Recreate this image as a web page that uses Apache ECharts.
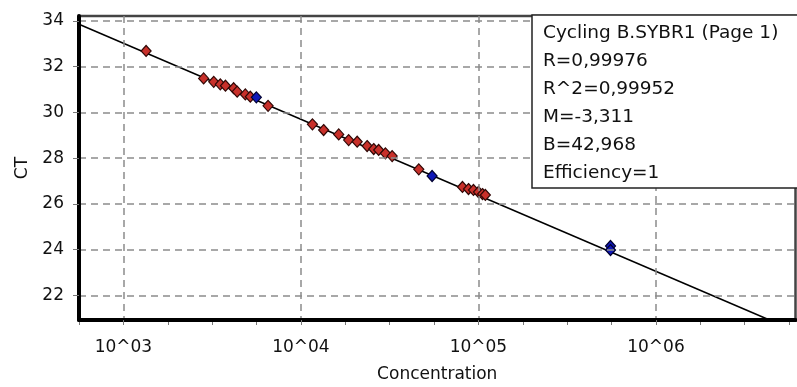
<!DOCTYPE html>
<html>
<head>
<meta charset="utf-8">
<script src="https://cdn.jsdelivr.net/npm/echarts@6/dist/echarts.min.js"></script>
<style>
  html, body { margin: 0; padding: 0; background: #fff; }
  #chart { width: 797px; height: 387px; }
</style>
</head>
<body>
<div id="chart"></div>
<script>
// standard curve, x = log10(concentration)
const redLogConc = [3.128, 3.452, 3.509, 3.546, 3.575, 3.621, 3.641, 3.687, 3.715, 3.815,
  4.065, 4.128, 4.213, 4.269, 4.317, 4.373, 4.410, 4.438, 4.476, 4.514,
  4.664, 4.910, 4.944, 4.972, 5.000, 5.023, 5.039];
const redCt = [32.69, 31.49, 31.34, 31.23, 31.17, 31.06, 30.91, 30.79, 30.69, 30.29,
  29.48, 29.23, 29.04, 28.79, 28.72, 28.53, 28.40, 28.36, 28.21, 28.09,
  27.51, 26.74, 26.65, 26.61, 26.52, 26.43, 26.39];
const blueLogConc = [3.749, 4.739, 5.744, 5.744];
const blueCt = [30.66, 27.22, 24.16, 23.98];

// regression line ends
const fitLogConc = [2.75, 6.63];
const fitCt = [33.86, 20.95];

const xTicks = [3, 4, 5, 6];
const xMinorTicks = [2.75, 3, 3.25, 3.5, 3.75, 4, 4.25, 4.5, 4.75, 5, 5.25, 5.5, 5.75, 6, 6.25, 6.5, 6.75];
const yTicks = [22, 24, 26, 28, 30, 32, 34];
const yMinorTicks = [21, 21.5, 22, 22.5, 23, 23.5, 24, 24.5, 25, 25.5, 26, 26.5, 27, 27.5,
  28, 28.5, 29, 29.5, 30, 30.5, 31, 31.5, 32, 32.5, 33, 33.5, 34];

const statsLines = ['Cycling B.SYBR1 (Page 1)', 'R=0,99976', 'R^2=0,99952', 'M=-3,311', 'B=42,968', 'Efficiency=1'];

const FONT = '"DejaVu Sans", sans-serif';
const xRange = { min: 2.75, max: 6.786 };
const yRange = { min: 20.92, max: 34.22 };

const zip = (xs, ys) => xs.map((x, i) => [x, ys[i]]);

const chart = echarts.init(document.getElementById('chart'));

chart.setOption({
  backgroundColor: '#fff',
  animation: false,
  grid: {
    left: 79,
    right: 1.5,
    top: 16,
    bottom: 67,
    show: true,
    borderColor: '#444',
    borderWidth: 2.5,
    outerBoundsMode: 'none',
  },
  xAxis: [
    {
      type: 'value',
      position: 'bottom',
      ...xRange,
      name: 'Concentration',
      nameLocation: 'middle',
      nameGap: 46,
      nameTextStyle: { fontFamily: FONT, fontSize: 17, color: '#111' },
      axisLine: { onZero: false, lineStyle: { color: '#000', width: 4 } },
      axisTick: { customValues: xTicks, length: 5, lineStyle: { color: '#777' } },
      axisLabel: {
        customValues: xTicks,
        margin: 19,
        fontFamily: FONT,
        fontSize: 17,
        color: '#111',
        formatter: (v) => '10^' + String(v).padStart(2, '0'),
      },
      splitLine: { show: true, lineStyle: { color: '#8c8c8c', width: 1.5, type: [7, 5] } },
      z: 5,
    },
    {
      type: 'value',
      position: 'bottom',
      ...xRange,
      axisLine: { show: false },
      axisTick: { customValues: xMinorTicks, length: 5, lineStyle: { color: '#777' } },
      axisLabel: { show: false },
      splitLine: { show: false },
    },
  ],
  yAxis: [
    {
      type: 'value',
      position: 'left',
      ...yRange,
      name: 'CT',
      nameLocation: 'middle',
      nameGap: 48,
      nameTextStyle: { fontFamily: FONT, fontSize: 17, color: '#111' },
      axisLine: { show: true, onZero: false, lineStyle: { color: '#000', width: 4 } },
      axisTick: { show: true, customValues: yTicks, length: 6, lineStyle: { color: '#777' } },
      axisLabel: { customValues: yTicks, margin: 15, fontFamily: FONT, fontSize: 17, color: '#111' },
      splitLine: { show: true, lineStyle: { color: '#8c8c8c', width: 1.5, type: [7, 5] } },
      z: 5,
    },
    {
      type: 'value',
      position: 'left',
      ...yRange,
      axisLine: { show: false },
      axisTick: { show: true, customValues: yMinorTicks, length: 2, lineStyle: { color: '#777' } },
      axisLabel: { show: false },
      splitLine: { show: false },
    },
  ],
  series: [
    {
      name: 'fit',
      type: 'line',
      data: zip(fitLogConc, fitCt),
      symbol: 'none',
      lineStyle: { color: '#000', width: 1.5 },
      z: 2,
    },
    {
      name: 'standards',
      type: 'scatter',
      data: zip(redLogConc, redCt),
      symbol: 'diamond',
      symbolSize: [10, 11],
      itemStyle: { color: '#c8302a', borderColor: '#300806', borderWidth: 1.2, opacity: 1 },
      z: 3,
    },
    {
      name: 'unknowns',
      type: 'scatter',
      data: zip(blueLogConc, blueCt),
      symbol: 'diamond',
      symbolSize: [10, 11],
      itemStyle: { color: '#1018b8', borderColor: '#000030', borderWidth: 1.2, opacity: 1 },
      z: 4,
    },
  ],
  graphic: [
    {
      type: 'rect',
      z: 100,
      shape: { x: 532, y: 15, width: 300, height: 173 },
      style: { fill: '#fff', stroke: '#222', lineWidth: 1.5 },
    },
    ...statsLines.map((t, i) => ({
      type: 'text',
      z: 101,
      x: 543,
      y: 33 + i * 28,
      style: {
        text: t,
        font: '18.5px ' + FONT,
        fill: '#111',
        verticalAlign: 'middle',
      },
    })),
  ],
});
</script>
</body>
</html>
